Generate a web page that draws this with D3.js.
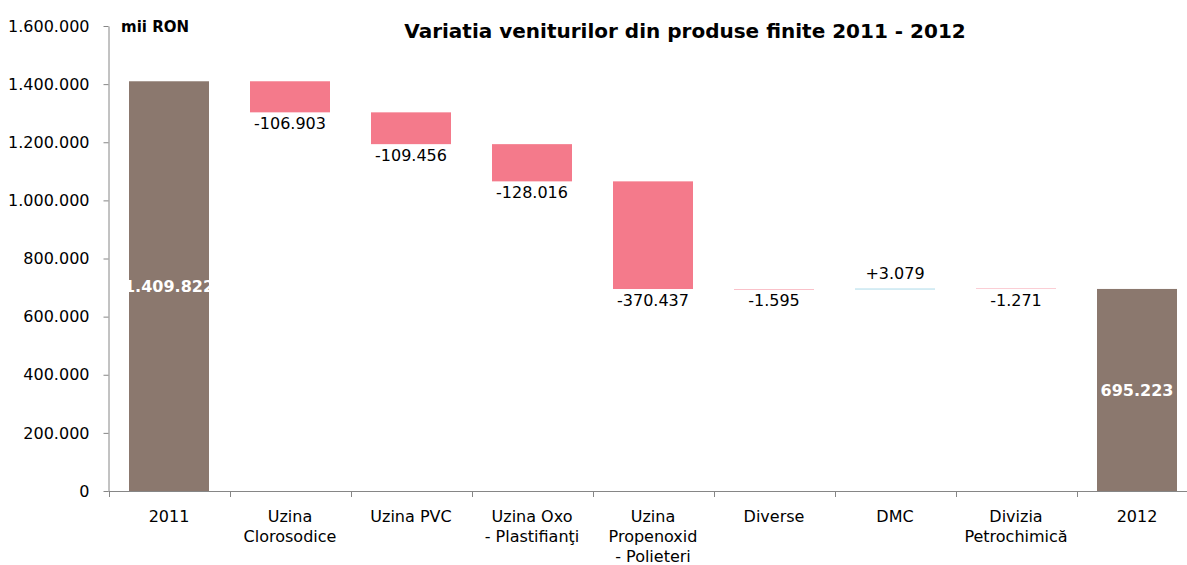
<!DOCTYPE html>
<html>
<head>
<meta charset="utf-8">
<script src="https://cdn.jsdelivr.net/npm/d3@7"></script>
<style>
  body { margin: 0; background: #fff; }
  svg { display: block; font-family: "DejaVu Sans", sans-serif; }
</style>
</head>
<body>
<div id="chart"></div>
<script>
// Waterfall: revenue variation 2011 -> 2012
const categories = [
    ["2011"],
    ["Uzina", "Clorosodice"],
    ["Uzina PVC"],
    ["Uzina Oxo", "- Plastifianţi"],
    ["Uzina", "Propenoxid", "- Polieteri"],
    ["Diverse"],
    ["DMC"],
    ["Divizia", "Petrochimică"],
    ["2012"]
];
const values = [1409822, -106903, -109456, -128016, -370437, -1595, 3079, -1271, 695223];
const kinds = ["total", "delta", "delta", "delta", "delta", "delta", "delta", "delta", "total"];
const yTicks = [0, 200000, 400000, 600000, 800000, 1000000, 1200000, 1400000, 1600000];

const width = 1187, height = 565;
const colors = { total: '#8b786e', down: '#f47a8b', up: '#a3d6e6' };

const ro = d3.formatLocale({ decimal: ',', thousands: '.', grouping: [3], currency: ['', ''], minus: '-' });
const fmtTotal = ro.format(',d');
const fmtDelta = ro.format('+,d');

// compute running start/end for each step
let running = 0;
const steps = values.map((v, i) => {
    let y0, y1;
    if (kinds[i] === 'total') {
        y0 = 0; y1 = v; running = v;
    } else {
        y0 = running; y1 = running + v; running = y1;
    }
    return { i, v, kind: kinds[i], y0, y1, label: categories[i] };
});

const svg = d3.select('#chart').append('svg')
    .attr('width', width)
    .attr('height', height);

const x = d3.scaleBand()
    .domain(d3.range(categories.length))
    .range([108.5, 108.5 + 121 * categories.length])
    .padding(0);

const y = d3.scaleLinear()
    .domain([0, 1600000])
    .range([491, 26]);

const barW = 80;
const barOff = (x.bandwidth() - barW) / 2;

// Bars
svg.append('g')
    .selectAll('rect')
    .data(steps)
    .enter().append('rect')
    .attr('x', d => x(d.i) + barOff)
    .attr('width', barW)
    .attr('y', d => y(Math.max(d.y0, d.y1)))
    .attr('height', d => Math.abs(y(d.y0) - y(d.y1)))
    .attr('fill', d => d.kind === 'total' ? colors.total : (d.v < 0 ? colors.down : colors.up));

// Y axis
const yAxis = svg.append('g')
    .attr('transform', 'translate(108.5,0)')
    .call(d3.axisLeft(y).tickValues(yTicks).tickFormat(fmtTotal).tickSize(5).tickSizeOuter(0).tickPadding(14));
yAxis.select('.domain').attr('stroke', '#868686');
yAxis.selectAll('.tick line').attr('stroke', '#868686');
yAxis.selectAll('.tick text')
    .attr('fill', '#000')
    .style('font-size', '16px')
    .style('font-family', '"DejaVu Sans", sans-serif');

// X axis baseline with ticks at band edges
const xg = svg.append('g');
xg.append('line')
    .attr('x1', 108.5).attr('x2', width)
    .attr('y1', 491.5).attr('y2', 491.5)
    .attr('stroke', '#868686');
xg.selectAll('line.tk')
    .data(d3.range(categories.length + 1))
    .enter().append('line')
    .attr('class', 'tk')
    .attr('x1', d => Math.round(108.5 + d * x.bandwidth()) + 0.5)
    .attr('x2', d => Math.round(108.5 + d * x.bandwidth()) + 0.5)
    .attr('y1', 491)
    .attr('y2', 497)
    .attr('stroke', '#868686');

// Category labels
const catText = svg.append('g')
    .selectAll('text')
    .data(steps)
    .enter().append('text')
    .attr('text-anchor', 'middle')
    .attr('x', d => x(d.i) + x.bandwidth() / 2)
    .attr('y', 522)
    .style('font-size', '16px')
    .attr('fill', '#000');
catText.selectAll('tspan')
    .data(d => d.label.map(l => ({ l, cx: x(d.i) + x.bandwidth() / 2 })))
    .enter().append('tspan')
    .attr('x', d => d.cx)
    .attr('dy', (d, i) => i === 0 ? 0 : 20)
    .text(d => d.l);

// Value labels
svg.append('g')
    .selectAll('text')
    .data(steps)
    .enter().append('text')
    .attr('text-anchor', 'middle')
    .attr('x', d => x(d.i) + x.bandwidth() / 2)
    .attr('y', d => {
        if (d.kind === 'total') return (y(0) + y(d.v)) / 2 + 6;
        if (d.v < 0) return y(d.y1) + 17;
        return y(d.y1) - 10;
    })
    .attr('fill', d => d.kind === 'total' ? '#fff' : '#000')
    .style('font-weight', d => d.kind === 'total' ? 'bold' : 'normal')
    .style('font-size', '16px')
    .text(d => d.kind === 'total' ? fmtTotal(d.v) : fmtDelta(d.v));

// Unit label
svg.append('text')
    .attr('x', 121)
    .attr('y', 32)
    .style('font-size', '15px')
    .style('font-weight', 'bold')
    .text('mii RON');

// Title
svg.append('text')
    .attr('x', 685)
    .attr('y', 38)
    .attr('text-anchor', 'middle')
    .style('font-size', '20px')
    .style('font-weight', 'bold')
    .text('Variatia veniturilor din produse finite 2011 - 2012');
</script>
</body>
</html>
